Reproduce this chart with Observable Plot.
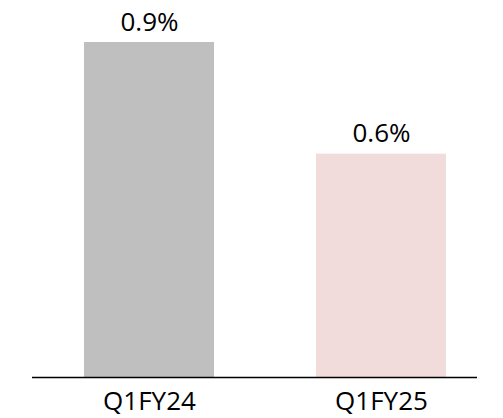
<!DOCTYPE html>
<html>
<head>
<meta charset="utf-8">
<script src="https://cdn.jsdelivr.net/npm/d3@7"></script>
<script src="https://cdn.jsdelivr.net/npm/@observablehq/plot@0.6"></script>
<style>
  html, body { margin: 0; padding: 0; background: #fff; }
  #chart svg { display: block; }
</style>
</head>
<body>
<div id="chart"></div>
<script>
const categories = ["Q1FY24", "Q1FY25"];
const values = [0.9, 0.6];
const labels = ["0.9%", "0.6%"];
const colors = ["#BFBFBF", "#F2DCDB"];

const data = categories.map((c, i) => ({cat: c, value: values[i], label: labels[i], color: colors[i]}));

const chart = Plot.plot({
  width: 503,
  height: 418,
  marginTop: 42,
  marginBottom: 41,
  marginLeft: 32,
  marginRight: 26,
  style: {fontFamily: "'Open Sans', sans-serif", background: "#fff", color: "#000"},
  x: {domain: categories, paddingInner: 0.44, paddingOuter: 0.179, align: 0.627, label: null},
  y: {domain: [0, 0.9], axis: null},
  marks: [
    Plot.barY(data, {x: "cat", y: "value", fill: "color"}),
    Plot.text(data, {x: "cat", y: "value", text: "label", dy: -20, fontSize: 26, fill: "#000"}),
    Plot.ruleY([0], {stroke: "#000", strokeWidth: 1.3}),
    Plot.axisX({tickSize: 0, tickPadding: 14, fontSize: 26, fill: "#000", label: null})
  ]
});
document.getElementById("chart").appendChild(chart);
</script>
</body>
</html>
